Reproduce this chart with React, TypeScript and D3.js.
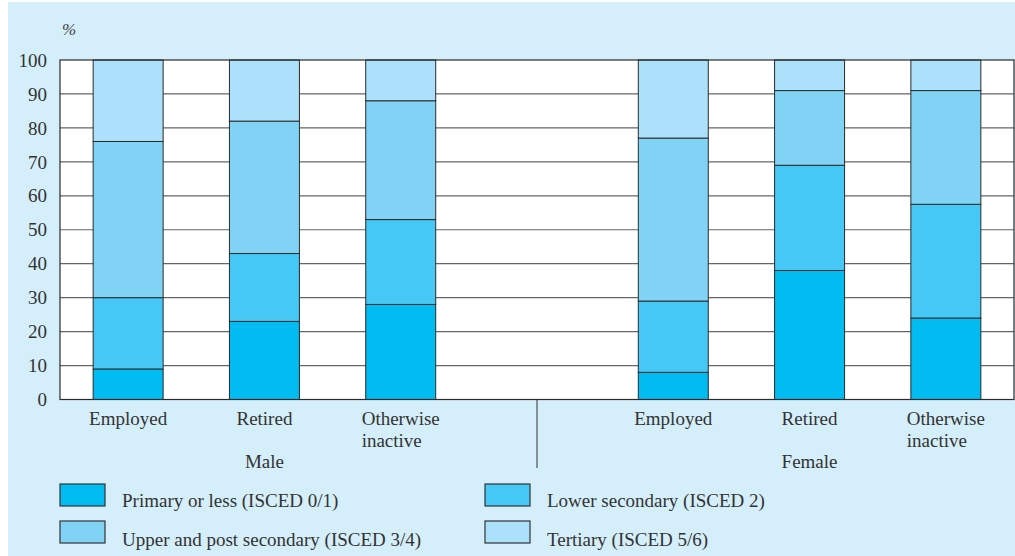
import React from "react";
import * as d3 from "d3";

const groups = ["Male", "Female"];
const statuses = ["Employed", "Retired", "Otherwise inactive"];
const seriesNames = [
  "Primary or less (ISCED 0/1)",
  "Lower secondary (ISCED 2)",
  "Upper and post secondary (ISCED 3/4)",
  "Tertiary (ISCED 5/6)",
];
// order: Male Employed, Retired, Otherwise; Female Employed, Retired, Otherwise
const primary = [9, 23, 28, 8, 38, 24];
const lowerSecondary = [21, 20, 25, 21, 31, 33.5];
const upperSecondary = [46, 39, 35, 48, 22, 33.5];
const tertiary = [24, 18, 12, 23, 9, 9];
const yTicks = [0, 10, 20, 30, 40, 50, 60, 70, 80, 90, 100];

const colors = ["#00BCF1", "#45C8F5", "#81D3F6", "#ABE1FA"];
const FONT = "'Liberation Serif', 'Times New Roman', serif";
const FS = 19;

function measure(text: string, size: number): number {
  try {
    const c = document.createElement("canvas").getContext("2d");
    if (c) {
      c.font = `${size}px 'Liberation Serif'`;
      return c.measureText(text).width;
    }
  } catch (e) {}
  return text.length * size * 0.45;
}

export default function App() {
  const W = 1015, H = 556;
  const left = 60, right = 1014, top = 60, bottom = 399.5;

  const slots = ["M0", "M1", "M2", "gap", "F0", "F1", "F2"];
  const p = 0.4865;
  const x = d3.scaleBand<string>().domain(slots).range([left, right]).paddingInner(p).paddingOuter(p / 2);
  const y = d3.scaleLinear().domain([0, 100]).range([bottom, top]);

  const rows = primary.map((_, i) => ({
    slot: (i < 3 ? "M" : "F") + (i % 3),
    s0: primary[i],
    s1: lowerSecondary[i],
    s2: upperSecondary[i],
    s3: tertiary[i],
  }));
  const stack = d3.stack<any>().keys(["s0", "s1", "s2", "s3"]);
  const layers = stack(rows);

  const center = (s: string) => (x(s) as number) + x.bandwidth() / 2;

  const legendPos = [
    { x: 60, y: 484, ty: 507 },
    { x: 485, y: 484, ty: 507 },
    { x: 60, y: 521, ty: 546 },
    { x: 485, y: 521, ty: 546 },
  ];

  return (
    <svg width={W} height={H} style={{ position: "absolute", left: 0, top: 0 }} fontFamily={FONT}>
      <rect x={8} y={2} width={W - 8} height={H - 2} fill="#D4EEFA" />
      <text x={62} y={35} fontSize={17} fontStyle="italic" fill="#444">%</text>
      <rect x={left} y={top} width={right - left} height={bottom - top} fill="#fff" />
      {yTicks.map((t) => (
        <g key={t}>
          {t > 0 && t < 100 && (
            <line x1={left} x2={right} y1={y(t)} y2={y(t)} stroke="#666" strokeWidth={1.2} />
          )}
          <text x={47} y={y(t)} dy="0.35em" textAnchor="end" fontSize={FS} fill="#333">{t}</text>
        </g>
      ))}
      {layers.map((layer, li) =>
        layer.map((d: any, i: number) => (
          <rect
            key={li + "-" + i}
            x={x(d.data.slot)}
            y={y(d[1])}
            width={x.bandwidth()}
            height={y(d[0]) - y(d[1])}
            fill={colors[li]}
            stroke="#2b2b2b"
            strokeWidth={1}
          />
        ))
      )}
      <rect x={left} y={top} width={right - left} height={bottom - top} fill="none" stroke="#2b2b2b" strokeWidth={1.2} />
      <line x1={x("gap")! + x.bandwidth() / 2} x2={x("gap")! + x.bandwidth() / 2} y1={bottom} y2={468} stroke="#333" strokeWidth={1} />
      {groups.map((g, gi) =>
        statuses.map((s, si) => {
          const cx = center((gi === 0 ? "M" : "F") + si);
          if (s === "Otherwise inactive") {
            const w = measure("Otherwise", FS);
            const sx = cx - w / 2;
            return (
              <text key={g + s} x={sx} y={425} fontSize={FS} fill="#333">
                <tspan x={sx} dy={0}>Otherwise</tspan>
                <tspan x={sx} dy={22}>inactive</tspan>
              </text>
            );
          }
          return (
            <text key={g + s} x={cx} y={425} textAnchor="middle" fontSize={FS} fill="#333">{s}</text>
          );
        })
      )}
      {groups.map((g, gi) => (
        <text key={g} x={center(gi === 0 ? "M1" : "F1")} y={468} textAnchor="middle" fontSize={FS} fill="#333">{g}</text>
      ))}
      {seriesNames.map((n, i) => (
        <g key={n}>
          <rect x={legendPos[i].x} y={legendPos[i].y} width={45} height={22} fill={colors[i]} stroke="#333" strokeWidth={1.2} />
          <text x={legendPos[i].x + 62} y={legendPos[i].ty} fontSize={FS} fill="#333">{n}</text>
        </g>
      ))}
    </svg>
  );
}
